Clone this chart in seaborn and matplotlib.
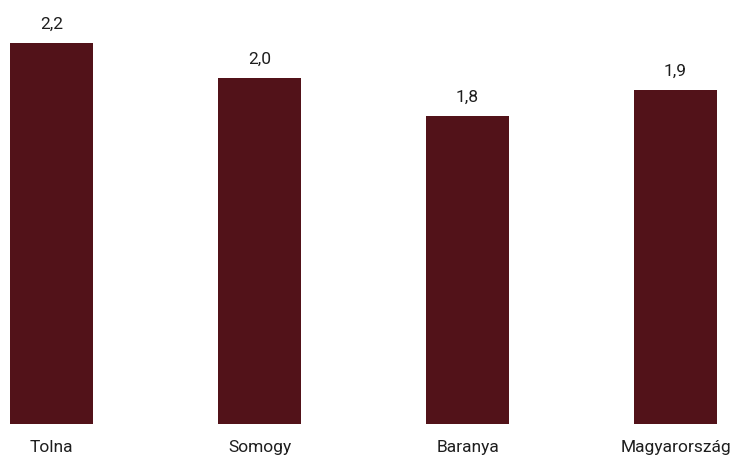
import matplotlib
matplotlib.use("Agg")
import matplotlib.pyplot as plt
import seaborn as sns
import pandas as pd

regions = ["Tolna", "Somogy", "Baranya", "Magyarország"]
values = [2.2, 2.0, 1.78, 1.93]

df = pd.DataFrame({"region": regions, "value": values})

sns.set_style("white")
plt.rcParams["font.family"] = ["Roboto", "DejaVu Sans"]

fig = plt.figure(figsize=(7.34, 4.64), dpi=100)
ax = fig.add_axes([0, 39 / 464, 1, 425 / 464])

sns.barplot(data=df, x="region", y="value", color="#521219", width=0.4,
            saturation=1, linewidth=0, ax=ax)

for i, v in enumerate(values):
    ax.text(i, v + 0.07, f"{v:.1f}".replace(".", ","), ha="center", va="bottom",
            fontsize=12.5, color="#1e1e1e")

ax.set_xlim(-0.248, 3.281)
ax.set_ylim(0, 2.454)
ax.set_xlabel("")
ax.set_ylabel("")
ax.set_yticks([])
ax.tick_params(axis="x", length=0, labelsize=12.5, pad=11, colors="#1e1e1e")
sns.despine(ax=ax, left=True, bottom=True)

fig.savefig("out.png", dpi=100)
